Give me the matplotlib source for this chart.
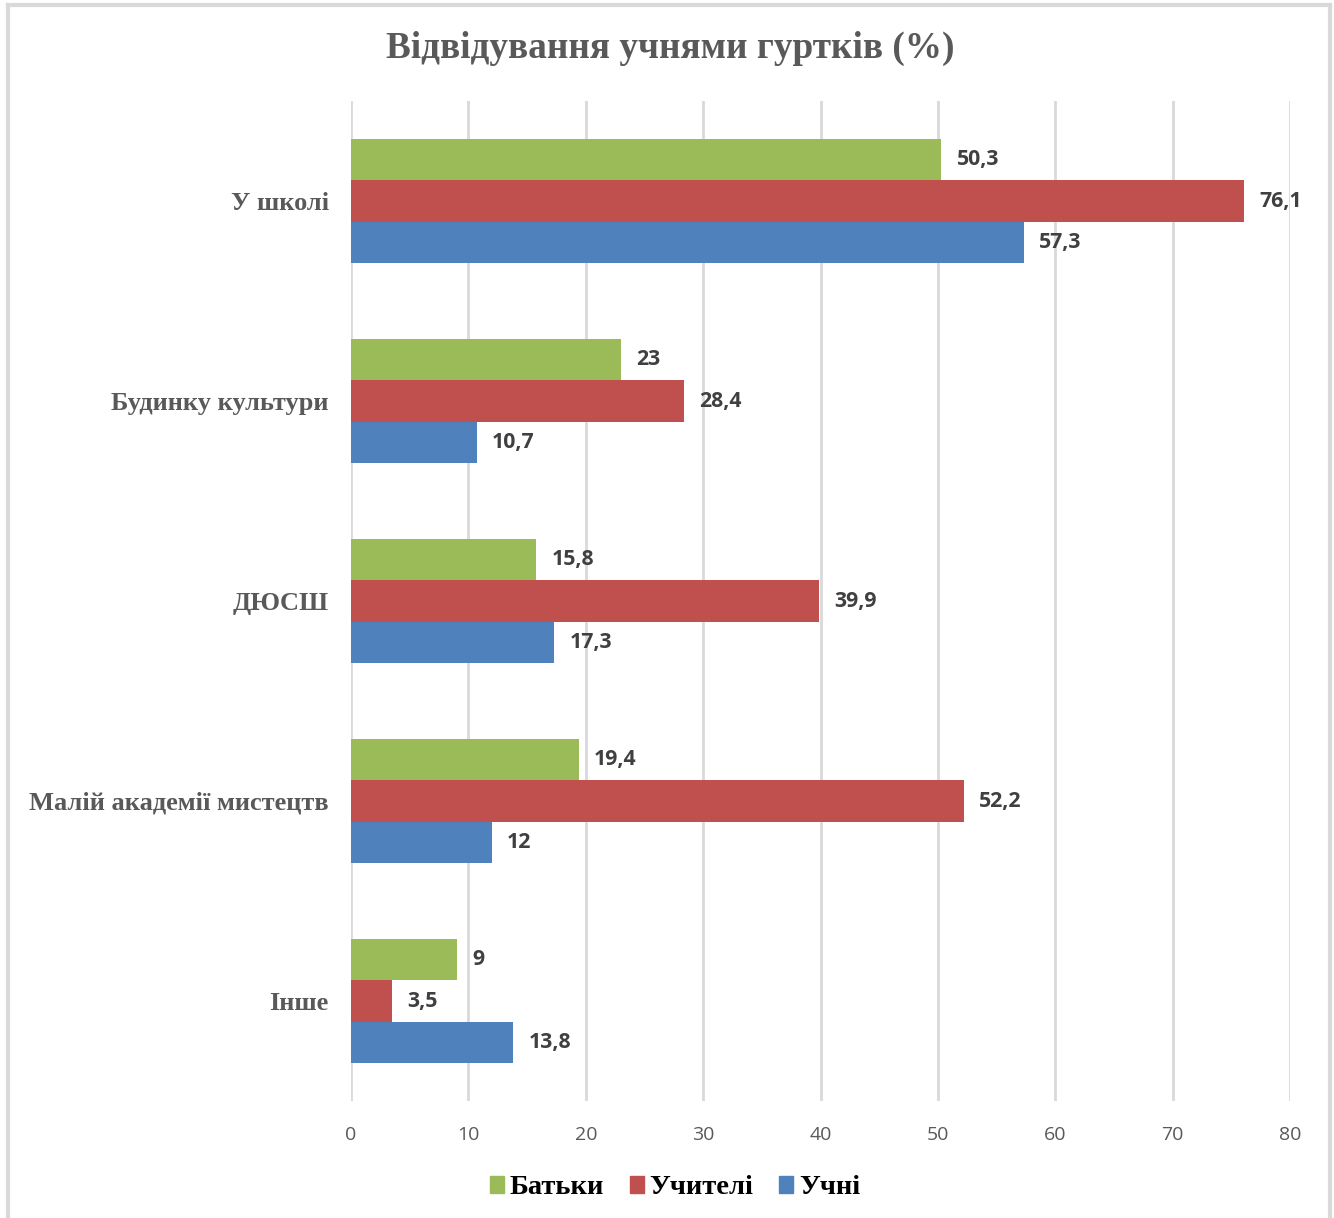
import matplotlib.pyplot as plt
from matplotlib.lines import Line2D
from matplotlib.patches import Patch
import numpy as np

categories = ['У школі', 'Будинку культури', 'ДЮСШ', 'Малій академії мистецтв', 'Інше']
series = ['Батьки', 'Учителі', 'Учні']
batky = [50.3, 23, 15.8, 19.4, 9]
uchyteli = [76.1, 28.4, 39.9, 52.2, 3.5]
uchni = [57.3, 10.7, 17.3, 12, 13.8]
colors = ['#9BBB59', '#C0504D', '#4F81BD']

W, H = 1334, 1218
fig = plt.figure(figsize=(W / 100, H / 100), dpi=100)
# plot area in pixels: x 351..1290, y 101..1101
ax = fig.add_axes([351 / W, 1 - 1101 / H, (1290 - 351) / W, 1000 / H])

y = np.arange(len(categories))
h = 0.207
for k, (vals, col) in enumerate(zip([batky, uchyteli, uchni], colors)):
    pos = y + (k - 1) * h
    ax.barh(pos, vals, height=h, color=col, zorder=3)
    for p, v in zip(pos, vals):
        lab = ('%g' % v).replace('.', ',')
        ax.text(v + 1.3, p, lab, va='center', ha='left', fontsize=15.3,
                fontweight='bold', color='#404040', family='Open Sans')

ax.set_xlim(0, 80)
ax.set_ylim(len(categories) - 0.5, -0.5)
ax.set_xticks(range(0, 81, 10))
ax.set_yticks(y)
ax.set_yticklabels(categories, family='Liberation Serif', fontweight='bold',
                   fontsize=19, color='#595959')
ax.grid(axis='x', color='#D9D9D9', linewidth=2, zorder=0)
for s in ax.spines.values():
    s.set_visible(False)
ax.tick_params(axis='both', length=0)
ax.tick_params(axis='y', pad=16)
ax.tick_params(axis='x', pad=18, labelsize=14, labelcolor='#595959')
for t in ax.get_xticklabels():
    t.set_family('Open Sans')

fig.text(670 / W, 1 - 48 / H, 'Відвідування учнями гуртків (%)', ha='center', va='center',
         family='Liberation Serif', fontweight='bold', fontsize=26.8, color='#595959')

handles = [Patch(color=c) for c in colors]
fig.legend(handles, series, loc='center', bbox_to_anchor=(675 / W, 1 - 1188 / H), ncol=3,
           frameon=False, handlelength=0.5, handleheight=0.5, handletextpad=0.2,
           columnspacing=0.9, prop={'family': 'Liberation Serif', 'weight': 'bold', 'size': 20.5})

# chart border
bc = '#D9D9D9'
fig.add_artist(Line2D([8 / W, 1330 / W], [1 - 5 / H, 1 - 5 / H], color=bc, lw=3, transform=fig.transFigure))
fig.add_artist(Line2D([8 / W, 8 / W], [1 - 5 / H, 0], color=bc, lw=3, transform=fig.transFigure))
fig.add_artist(Line2D([1330 / W, 1330 / W], [1 - 5 / H, 0], color=bc, lw=3, transform=fig.transFigure))

fig.savefig('out.png', dpi=100)
